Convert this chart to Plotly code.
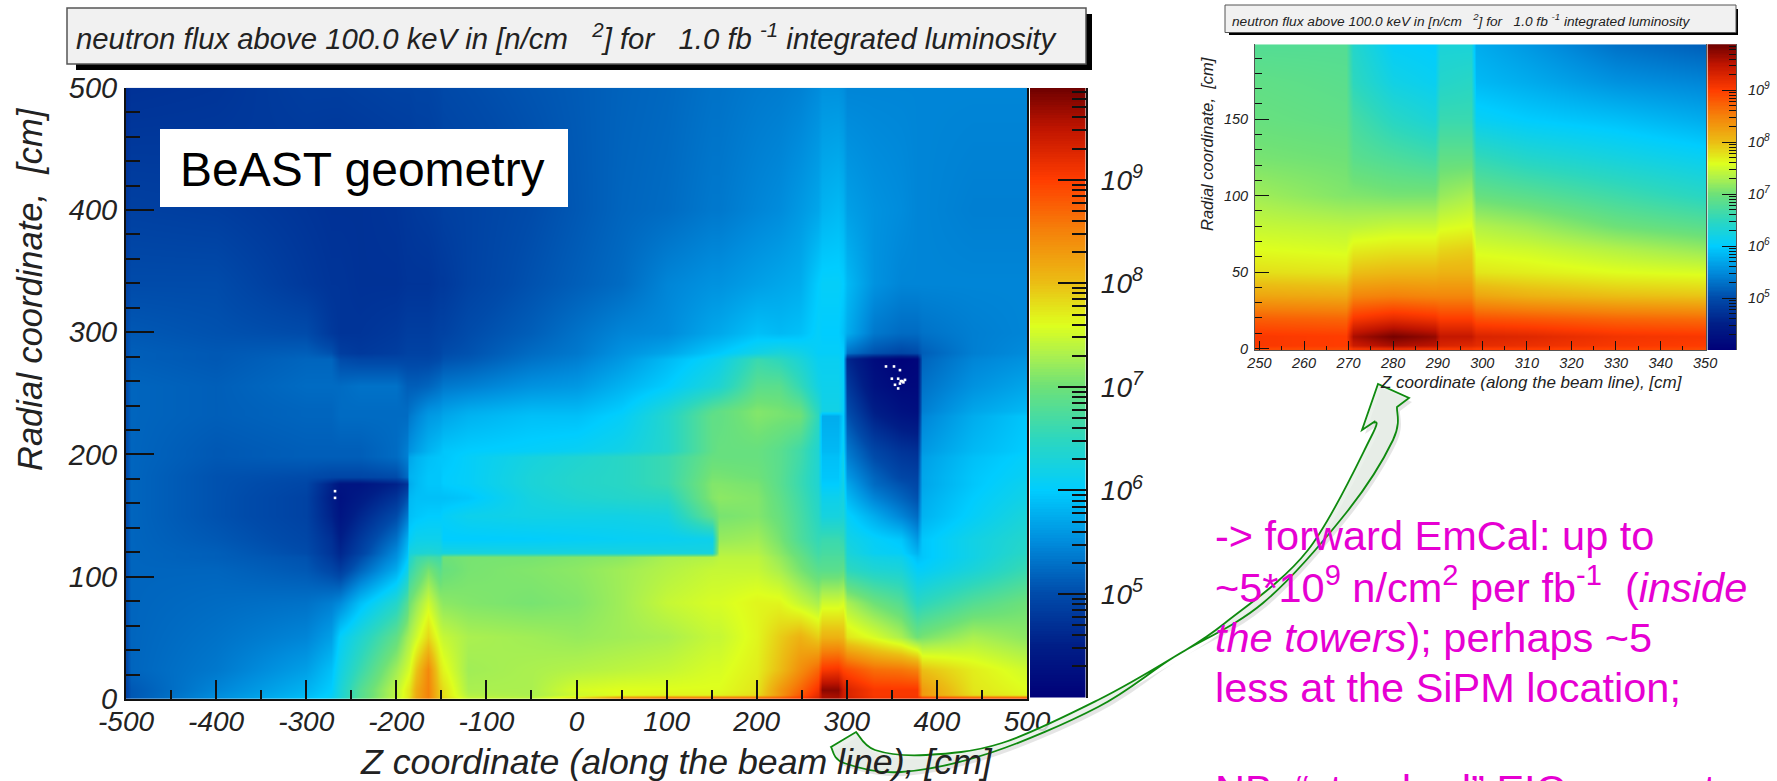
import math
import plotly.graph_objects as go

W, H = 1777, 781
FONT = "Liberation Sans"

# ---------- main map: log10(flux) ----------
main_z_positions = [-500, -495, -400, -300, -272, -262, -240, -200, -188, -186, -178, -165, -152, -148, -120, -50, 0,
                    50, 100, 150, 158, 200, 225, 248, 268, 272, 290, 296, 300, 330, 360, 378, 384, 440, 500]
main_r_positions = [1, 3.5, 8, 24, 51, 79, 106, 116, 120, 131, 150, 165, 176, 182, 198, 203, 232, 236, 256, 278, 283,
                    300, 340, 400, 500]
m_r1 = [4.9,5.1,5.5,5.9,6.1,6.35,6.85,7.45,7.7,7.8,8.2,8.5,7.95,7.85,7.45,7.4,7.8,8.4,8.6,8.65,8.65,8.7,8.8,9.0,9.3,9.6,9.6,9.4,9.35,9.1,9.1,9.1,9.0,8.85,8.85]
m_r2 = [4.9,5.1,5.5,5.85,6.05,6.3,6.8,7.4,7.7,7.75,8.15,8.5,7.9,7.8,7.35,7.3,7.5,7.6,7.65,7.65,7.65,7.8,8.3,8.8,9.2,9.6,9.65,9.4,9.3,9.05,9.05,9.05,8.3,7.8,7.65]
m_r3 = [4.9,5.1,5.45,5.8,6.0,6.3,6.8,7.4,7.7,7.75,8.15,8.5,7.9,7.8,7.3,7.3,7.55,7.6,7.6,7.6,7.6,7.75,8.3,8.7,9.1,9.75,9.75,9.4,9.3,9.05,9.05,9.05,8.3,7.75,7.6]
m_r4 = [4.95,5.2,5.35,5.65,5.9,6.2,6.6,7.25,7.5,7.55,7.95,8.45,7.75,7.65,7.25,7.3,7.35,7.4,7.45,7.55,7.55,7.7,8.0,8.4,8.7,9.05,9.1,8.95,8.9,8.65,8.6,8.5,8.0,7.7,7.5]
m_r5 = [5.0,5.2,5.3,5.45,5.65,6.05,6.35,6.9,7.25,7.3,7.5,7.85,7.5,7.45,7.3,7.25,7.2,7.25,7.3,7.45,7.45,7.65,7.9,8.1,7.9,8.1,8.1,8.05,7.75,7.55,7.3,7.0,7.05,7.3,7.15]
m_r6 = [5.0,5.2,5.25,5.3,5.4,5.5,5.9,6.4,6.8,7.0,7.2,7.5,7.2,7.15,7.1,7.05,7.1,7.25,7.45,7.55,7.55,7.65,7.65,7.45,7.3,7.5,7.5,7.55,7.3,7.0,6.8,6.45,6.5,6.8,7.0]
m_r7 = [5.0,5.2,5.2,5.1,4.95,4.85,5.2,5.75,6.15,6.55,6.75,7.05,6.85,6.95,7.05,7.1,7.15,7.25,7.35,7.45,7.45,7.45,7.3,7.05,6.85,6.85,6.85,6.9,6.5,6.35,6.3,6.05,6.05,6.3,6.6]
m_r8 = [5.0,5.2,5.15,5.05,4.8,4.65,5.0,5.55,5.95,6.35,6.6,6.7,6.65,7.0,7.05,7.05,7.1,7.15,7.3,7.35,7.4,7.4,7.2,6.95,6.7,6.75,6.75,6.75,6.35,6.2,6.15,5.9,5.95,6.2,6.5]
m_r9 = [5.0,5.2,5.15,5.0,4.75,4.6,4.9,5.5,5.9,6.25,6.3,6.35,6.3,6.25,6.25,6.25,6.25,6.25,6.25,6.25,7.35,7.35,7.15,6.9,6.65,6.7,6.7,6.7,6.3,6.1,6.05,5.8,5.95,6.2,6.45]
m_r10 = [5.0,5.2,5.1,4.95,4.7,4.5,4.8,5.3,5.75,6.05,6.15,6.15,6.15,6.0,6.0,6.02,6.05,6.08,6.1,6.15,7.2,7.25,7.05,6.75,6.55,6.6,6.6,6.55,6.2,6.05,5.95,5.6,5.95,6.2,6.4]
m_r11 = [5.0,5.2,5.05,4.9,4.55,4.35,4.6,5.0,5.35,5.9,5.95,6.0,6.0,6.05,6.15,6.2,6.2,6.2,6.25,6.9,7.05,7.1,6.95,6.7,6.45,6.25,6.25,6.3,6.05,5.75,5.45,5.25,5.8,6.05,6.3]
m_r12 = [5.0,5.2,5.05,4.9,4.5,4.3,4.45,4.75,5.05,5.85,5.9,5.9,5.9,5.9,5.95,6.25,6.35,6.4,6.45,7.1,7.15,7.1,6.9,6.65,6.4,6.15,6.15,6.25,5.85,5.45,5.2,5.05,5.75,6.0,6.2]
m_r13 = [5.0,5.2,5.05,4.95,4.55,4.35,4.35,4.55,4.75,5.75,5.85,5.95,5.95,6.0,6.05,6.3,6.4,6.45,6.6,7.1,7.1,7.05,6.85,6.6,6.35,6.0,6.0,6.2,5.7,5.25,5.05,4.95,5.7,5.95,6.15]
m_r14 = [5.0,5.2,5.05,5.0,4.95,4.95,4.95,5.0,5.25,5.8,5.85,5.95,5.95,6.0,6.05,6.3,6.4,6.45,6.6,7.05,7.05,7.0,6.85,6.6,6.35,5.95,5.95,6.2,5.6,5.2,4.95,4.9,5.7,5.95,6.1]
m_r15 = [5.0,5.2,5.1,5.15,5.15,5.15,5.15,5.25,5.4,5.7,5.8,5.9,5.95,5.95,6.05,6.25,6.35,6.45,6.6,6.95,6.95,6.95,6.85,6.65,6.35,5.9,5.9,6.15,5.4,5.0,4.8,4.75,5.65,5.9,6.05]
m_r16 = [5.0,5.2,5.1,5.15,5.15,5.15,5.15,5.25,5.4,5.55,5.65,5.8,5.9,5.95,6.0,6.05,6.1,6.2,6.4,6.9,6.95,6.95,6.85,6.65,6.35,5.85,5.85,6.1,5.35,4.95,4.75,4.7,5.6,5.85,6.0]
m_r17 = [5.0,5.2,5.15,5.2,5.2,5.25,5.25,5.25,5.25,5.35,5.45,5.6,5.65,5.7,5.8,5.9,5.9,6.05,6.4,6.9,6.9,7.1,7.05,7.0,6.5,5.75,5.75,6.0,5.05,4.55,4.35,4.3,5.45,5.75,5.95]
m_r18 = [5.0,5.2,5.15,5.2,5.2,5.25,5.25,5.25,5.25,5.3,5.4,5.55,5.6,5.65,5.75,5.85,5.85,6.0,6.35,6.85,6.9,7.1,7.05,6.95,6.45,6.2,6.2,6.05,5.0,4.5,4.3,4.25,5.4,5.7,5.85]
m_r19 = [5.0,5.2,5.15,5.25,5.25,5.25,5.3,5.3,5.15,5.15,5.15,5.2,5.3,5.35,5.4,5.55,5.6,5.8,6.0,6.3,6.35,6.85,6.85,6.55,6.2,6.15,6.15,6.05,4.8,4.3,4.15,4.15,5.3,5.55,5.7]
m_r20 = [5.0,5.15,5.1,5.2,5.2,5.0,4.95,4.95,4.95,4.95,4.95,4.95,5.0,5.05,5.1,5.3,5.4,5.6,5.85,6.1,6.15,6.6,6.5,6.3,6.1,6.1,6.1,6.0,4.6,4.2,4.05,4.1,5.2,5.45,5.55]
m_r21 = [5.0,5.15,5.1,5.15,5.05,4.85,4.8,4.85,4.9,4.9,4.9,4.9,4.95,5.0,5.05,5.25,5.35,5.55,5.7,5.95,5.98,6.2,6.3,6.2,6.05,6.05,6.05,6.0,5.3,5.05,4.95,5.0,5.15,5.4,5.5]
m_r22 = [5.0,5.1,5.05,5.0,4.8,4.75,4.75,4.8,4.85,4.85,4.85,4.85,4.9,4.9,5.0,5.15,5.3,5.45,5.5,5.7,5.72,5.9,5.85,5.9,6.05,6.0,6.0,5.9,5.75,5.35,5.25,5.25,5.3,5.4,5.45]
m_r23 = [4.9,5.0,5.0,4.8,4.75,4.75,4.72,4.72,4.75,4.75,4.75,4.75,4.8,4.8,4.9,5.05,5.15,5.25,5.45,5.55,5.55,5.65,5.7,5.75,6.0,6.05,6.05,6.0,5.85,5.55,5.45,5.45,5.45,5.45,5.45]
m_r24 = [4.8,4.88,4.85,4.75,4.72,4.72,4.72,4.75,4.78,4.78,4.8,4.82,4.85,4.87,4.9,5.0,5.1,5.2,5.25,5.35,5.35,5.45,5.5,5.6,5.7,5.8,5.85,5.8,5.65,5.55,5.5,5.45,5.45,5.4,5.4]
m_r25 = [4.65,4.72,4.75,4.85,4.85,4.85,4.87,4.9,4.9,4.9,4.92,4.92,4.95,4.97,5.0,5.07,5.12,5.18,5.22,5.3,5.3,5.36,5.38,5.42,5.5,5.55,5.55,5.52,5.45,5.45,5.45,5.45,5.45,5.45,5.45]
main_rows = [m_r1, m_r2, m_r3, m_r4, m_r5, m_r6, m_r7, m_r8, m_r9, m_r10, m_r11, m_r12, m_r13, m_r14, m_r15, m_r16,
             m_r17, m_r18, m_r19, m_r20, m_r21, m_r22, m_r23, m_r24, m_r25]

# empty (white) bins inside the two deepest shadows
empty_z = [343.5, 352.4, 359, 350, 357, 359, 353.5, 357, 361.6, 364.6, 362.8, 360, -268, -268]
empty_r = [272, 272, 269, 262, 262, 258, 257, 254, 260, 261, 259, 260, 170, 164.5]

# ---------- inset map ----------
inset_z_positions = [249, 269.5, 271, 280, 289.5, 290.5, 297.5, 298.5, 310, 330, 350.5]
inset_r_positions = [0, 2, 8, 20, 35, 50, 65, 80, 100, 125, 150, 175, 199]
i_r1 = [8.9,8.9,9.1,9.2,9.15,9.05,9.05,9.0,9.0,8.95,8.9]
i_r2 = [9.05,9.0,9.4,9.6,9.5,9.3,9.25,9.2,9.15,9.05,9.0]
i_r3 = [9.05,9.0,9.6,9.85,9.7,9.45,9.45,9.3,9.25,9.1,9.05]
i_r4 = [8.75,8.7,9.05,9.2,9.1,9.0,9.0,8.85,8.8,8.7,8.65]
i_r5 = [8.2,8.15,8.45,8.5,8.45,8.45,8.45,8.2,8.1,8.0,7.95]
i_r6 = [7.8,7.75,8.0,8.05,8.05,8.1,8.1,7.75,7.7,7.6,7.55]
i_r7 = [7.6,7.55,7.7,7.75,7.75,7.85,7.9,7.55,7.5,7.35,7.2]
i_r8 = [7.45,7.4,7.4,7.45,7.45,7.55,7.6,7.35,7.25,7.0,6.85]
i_r9 = [7.25,7.1,7.1,7.05,7.05,7.2,7.3,6.95,6.85,6.65,6.45]
i_r10 = [7.05,7.0,6.85,6.75,6.65,6.9,6.9,6.55,6.4,6.25,6.1]
i_r11 = [6.95,6.9,6.7,6.45,6.3,6.6,6.6,6.1,6.0,5.9,5.75]
i_r12 = [6.9,6.85,6.5,6.2,6.1,6.4,6.45,5.85,5.75,5.55,5.45]
i_r13 = [6.8,6.8,6.4,6.05,6.0,6.3,6.3,5.75,5.6,5.3,5.15]
inset_rows = [i_r1, i_r2, i_r3, i_r4, i_r5, i_r6, i_r7, i_r8, i_r9, i_r10, i_r11, i_r12, i_r13]

# ---------- axes labels ----------
main_x_ticks = [-500, -400, -300, -200, -100, 0, 100, 200, 300, 400, 500]
main_x_labels = ["-500", "-400", "-300", "-200", "-100", "0", "100", "200", "300", "400", "500"]
main_y_ticks = [0, 100, 200, 300, 400, 500]
inset_x_ticks = [250, 260, 270, 280, 290, 300, 310, 320, 330, 340, 350]
inset_y_ticks = [0, 50, 100, 150]
decade_ticks = [5, 6, 7, 8, 9]
decade_labels = ["10<sup>5</sup>", "10<sup>6</sup>", "10<sup>7</sup>", "10<sup>8</sup>", "10<sup>9</sup>"]
CMIN, CMAX = 4.0, 9.886
palette = [(0.0, "rgb(0,0,120)"), (0.085, "rgb(0,30,135)"), (0.17, "rgb(0,75,170)"), (0.255, "rgb(0,140,220)"),
           (0.34, "rgb(0,205,255)"), (0.425, "rgb(45,215,190)"), (0.51, "rgb(110,225,120)"),
           (0.56, "rgb(170,240,80)"), (0.61, "rgb(222,255,30)"), (0.68, "rgb(235,190,20)"),
           (0.765, "rgb(245,130,10)"), (0.85, "rgb(255,60,0)"), (0.935, "rgb(190,20,0)"), (1.0, "rgb(110,0,0)")]

ramp_levels = [CMIN + (CMAX - CMIN) * i / 235 for i in range(236)]
minor_decades = [d + math.log10(k) for d in range(4, 10) for k in range(2, 10)
                 if d + math.log10(k) < CMAX]


def px(x):
    return x / W


def py(y):
    return 1 - y / H


def catmull(points):
    s = ""
    pts = [points[0]] + points + [points[-1]]
    for i in range(1, len(pts) - 2):
        p0, p1, p2, p3 = pts[i - 1], pts[i], pts[i + 1], pts[i + 2]
        c1 = (p1[0] + (p2[0] - p0[0]) / 6, p1[1] + (p2[1] - p0[1]) / 6)
        c2 = (p2[0] - (p3[0] - p1[0]) / 6, p2[1] - (p3[1] - p1[1]) / 6)
        s += " C%.5f,%.5f %.5f,%.5f %.5f,%.5f" % (px(c1[0]), py(c1[1]), px(c2[0]), py(c2[1]), px(p2[0]), py(p2[1]))
    return s


fig = go.Figure()
fig.add_trace(go.Heatmap(x=main_z_positions, y=main_r_positions, z=main_rows, colorscale=palette, zmin=CMIN, zmax=CMAX,
                         zsmooth="best", showscale=False, xaxis="x", yaxis="y"))
fig.add_trace(go.Scatter(x=empty_z, y=empty_r, mode="markers", xaxis="x", yaxis="y", showlegend=False,
                         marker=dict(symbol="square", size=2.6, color="white")))
fig.add_trace(go.Heatmap(x=inset_z_positions, y=inset_r_positions, z=inset_rows, colorscale=palette, zmin=CMIN,
                         zmax=CMAX, zsmooth="best", showscale=False, xaxis="x2", yaxis="y2"))
fig.add_trace(go.Heatmap(x=[0, 1], y=ramp_levels, z=[[v, v] for v in ramp_levels], colorscale=palette, zmin=CMIN,
                         zmax=CMAX, showscale=False, xaxis="x3", yaxis="y3"))
fig.add_trace(go.Heatmap(x=[0, 1], y=ramp_levels, z=[[v, v] for v in ramp_levels], colorscale=palette, zmin=CMIN,
                         zmax=CMAX, showscale=False, xaxis="x4", yaxis="y4"))

LINE = "#111111"


def tf(size):
    return dict(family=FONT, size=size, style="italic", color="#222222")


layout_axes = dict(
    xaxis=dict(domain=[px(126), px(1027)], range=[-500, 500], anchor="y", tickmode="array", tickvals=main_x_ticks,
               ticktext=main_x_labels, ticks="inside", ticklen=19, tickwidth=1.6, tickcolor=LINE,
               minor=dict(dtick=50, tick0=0, ticks="inside", ticklen=9, tickwidth=1.6, tickcolor=LINE, showgrid=False),
               tickfont=tf(28), showline=True, linecolor=LINE, linewidth=2, showgrid=False, zeroline=False,
               ticklabelstandoff=-4, automargin=False),
    yaxis=dict(domain=[py(699), py(87.7)], range=[0, 500], anchor="x", tickmode="array", tickvals=main_y_ticks,
               ticktext=[str(v) for v in main_y_ticks], ticks="inside", ticklen=28, tickwidth=1.6, tickcolor=LINE,
               minor=dict(dtick=20, tick0=0, ticks="inside", ticklen=14, tickwidth=1.6, tickcolor=LINE, showgrid=False),
               tickfont=tf(29), showline=True, linecolor=LINE, linewidth=2, mirror=True, showgrid=False,
               zeroline=False, ticklabelstandoff=1, automargin=False),
    xaxis2=dict(domain=[px(1255), px(1706)], range=[249, 350.2], anchor="y2", tickmode="array", tickvals=inset_x_ticks,
                ticktext=[str(v) for v in inset_x_ticks], ticks="inside", ticklen=9, tickwidth=1, tickcolor=LINE,
                minor=dict(dtick=5, tick0=250, ticks="inside", ticklen=4.5, tickwidth=1, tickcolor=LINE, showgrid=False),
                tickfont=tf(14.5), showline=True, linecolor="#555555", linewidth=1, showgrid=False, zeroline=False,
                ticklabelstandoff=0, automargin=False),
    yaxis2=dict(domain=[py(350), py(44.3)], range=[-1, 199], anchor="x2", tickmode="array", tickvals=inset_y_ticks,
                ticktext=[str(v) for v in inset_y_ticks], ticks="inside", ticklen=14, tickwidth=1, tickcolor=LINE,
                minor=dict(dtick=10, tick0=0, ticks="inside", ticklen=7, tickwidth=1, tickcolor=LINE, showgrid=False),
                tickfont=tf(14.5), showline=True, linecolor="#555555", linewidth=1, mirror=True, showgrid=False,
                zeroline=False, ticklabelstandoff=3, automargin=False),
    xaxis3=dict(domain=[px(1030), px(1085.5)], range=[0, 1], anchor="y3", visible=False),
    yaxis3=dict(domain=[py(697.6), py(88)], range=[CMIN, CMAX], anchor="x3", side="right", tickmode="array",
                tickvals=decade_ticks, ticktext=decade_labels, ticks="inside", ticklen=28, tickwidth=1.6,
                tickcolor=LINE, tickfont=tf(28), showline=True, linecolor=LINE, linewidth=1.5, showgrid=False,
                zeroline=False, ticklabelstandoff=8, automargin=False,
                minor=dict(tickmode="array", tickvals=minor_decades, ticks="inside", ticklen=14, tickwidth=1.6,
                           tickcolor=LINE, showgrid=False)),
    xaxis4=dict(domain=[px(1707.6), px(1736)], range=[0, 1], anchor="y4", visible=False),
    yaxis4=dict(domain=[py(350), py(44.3)], range=[CMIN, CMAX], anchor="x4", side="right", tickmode="array",
                tickvals=decade_ticks, ticktext=decade_labels, ticks="inside", ticklen=14, tickwidth=1, tickcolor=LINE,
                tickfont=tf(14.5), showline=True, linecolor="#555555", linewidth=1, showgrid=False, zeroline=False,
                ticklabelstandoff=8, automargin=False,
                minor=dict(tickmode="array", tickvals=minor_decades, ticks="inside", ticklen=7, tickwidth=1,
                           tickcolor=LINE, showgrid=False)),
)


def rect(x0, y0, x1, y1, fill, line=None, lw=0):
    return dict(type="rect", xref="paper", yref="paper", x0=px(x0), x1=px(x1), y0=py(y1), y1=py(y0), fillcolor=fill,
                line=dict(color=line or fill, width=lw))


curve_a = [(856, 732), (875, 750), (926, 755), (1002, 743), (1098, 700), (1174, 657), (1225, 623), (1308, 550),
           (1371, 437), (1374, 422)]
curve_b = [(1397, 407), (1393, 440), (1346, 513), (1263, 603), (1174, 657), (1098, 707), (990, 753), (901, 772),
           (844, 763), (831, 747)]


def arrow(dx=0, dy=0):
    a = [(x + dx, y + dy) for x, y in curve_a]
    b = [(x + dx, y + dy) for x, y in curve_b]
    head = [(1362, 430), (1378, 384), (1409, 398), (1397, 407)]
    p = "M%.5f,%.5f" % (px(a[0][0]), py(a[0][1])) + catmull(a)
    for x, y in head:
        p += " L%.5f,%.5f" % (px(x + dx), py(y + dy))
    p += catmull(b) + " Z"
    return p


shapes = [
    rect(76, 14, 1092, 70, "#000000"),
    rect(67, 8, 1086, 64, "#f1f1f1", "#555555", 1.5),
    rect(1229, 9, 1738, 35, "#000000"),
    rect(1225, 5, 1736, 32.5, "#f1f1f1", "#555555", 1),
    rect(160, 129, 568, 207, "#ffffff"),
    dict(type="path", xref="paper", yref="paper", path=arrow(3, 4), fillcolor="rgba(0,0,0,0.10)",
         line=dict(color="rgba(0,0,0,0)", width=0)),
    dict(type="path", xref="paper", yref="paper", path=arrow(), fillcolor="rgba(232,238,232,0.85)",
         line=dict(color="#0f8a0f", width=1.8)),
]


def note(text, x, y, size, color="#222222", italic=True, anchor="left", angle=0):
    return dict(text=text, xref="paper", yref="paper", x=px(x), y=py(y), xanchor=anchor, yanchor="middle",
                showarrow=False, textangle=angle, align="left",
                font=dict(family=FONT, size=size, color=color, style="italic" if italic else "normal"))


MAG = "#e600d2"
TITLE = "neutron flux above 100.0 keV in [n/cm\u00a0\u00a0\u00a0<sup>2</sup>] for \u00a0\u00a01.0 fb <sup>-1</sup> integrated luminosity"
annotations = [
    note(TITLE, 74, 36, 29.3),
    note(TITLE, 1230, 20, 13.7),
    note("BeAST geometry", 178, 170, 48, "#000000", italic=False),
    note("Radial coordinate,  [cm]", 30, 289, 34.5, anchor="center", angle=-90),
    note("Z coordinate (along the beam line), [cm]", 676, 762, 35.7, anchor="center"),
    note("Radial coordinate,  [cm]", 1207, 144, 16.5, anchor="center", angle=-90),
    note("Z coordinate (along the beam line), [cm]", 1531, 383, 17, anchor="center"),
    note("-> forward EmCal: up to", 1213, 535, 41.5, MAG, italic=False),
    note("~5*10<sup>9</sup> n/cm<sup>2</sup> per fb<sup>-1</sup>  (<i>inside</i>", 1213, 585, 41.5, MAG, italic=False),
    note("<i>the towers</i>); perhaps ~5", 1213, 637, 41.5, MAG, italic=False),
    note("less at the SiPM location;", 1213, 687, 41.5, MAG, italic=False),
    note("NB: \u201cstandard\u201d EIC magnet", 1213, 790, 41.5, MAG, italic=False),
]

fig.update_layout(width=W, height=H, margin=dict(l=0, r=0, t=0, b=0, autoexpand=False), paper_bgcolor="white",
                  plot_bgcolor="white", showlegend=False, shapes=shapes, annotations=annotations, **layout_axes)

fig.write_html("out.html", config={"displayModeBar": False},
               post_script="document.body.style.margin='0';document.body.style.overflow='hidden';")
